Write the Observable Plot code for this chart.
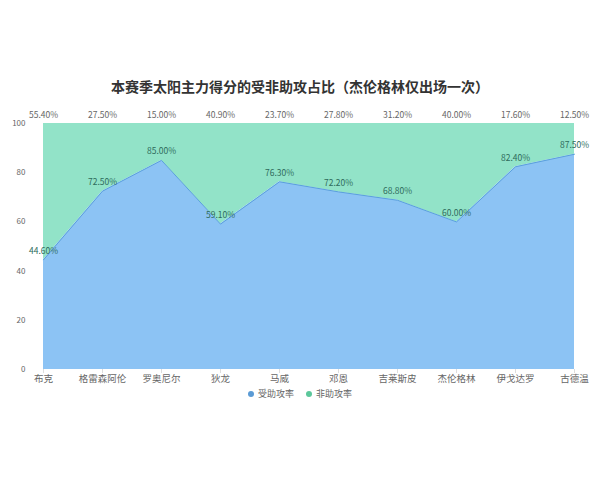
<!DOCTYPE html>
<html>
<head>
<meta charset="utf-8">
<script src="https://cdn.jsdelivr.net/npm/d3@7"></script>
<script src="https://cdn.jsdelivr.net/npm/@observablehq/plot@0.6"></script>
<style>
  body { margin: 0; background: #fff; font-family: "Noto Sans CJK SC", "Noto Sans", sans-serif; }
  #wrap { position: relative; width: 600px; height: 480px; overflow: hidden; }
  #title { position: absolute; left: 0; width: 600px; top: 76px; text-align: center; font-size: 14px; font-weight: bold; color: #333; }
  #legend { position: absolute; left: 0; width: 600px; top: 388px; line-height: 12px; display: flex; justify-content: center; gap: 12px; font-size: 9px; color: #666; }
  #legend span.item { display: flex; align-items: center; gap: 4px; }
  #legend span.dot { width: 6px; height: 6px; border-radius: 50%; display: inline-block; }
  #chart { position: absolute; left: 0; top: 0; }
</style>
</head>
<body>
<div id="wrap">
  <div id="chart"></div>
  <div id="title">本赛季太阳主力得分的受非助攻占比（杰伦格林仅出场一次）</div>
  <div id="legend"></div>
</div>
<script>
const players = ["布克", "格雷森阿伦", "罗奥尼尔", "狄龙", "马威", "邓恩", "吉莱斯皮", "杰伦格林", "伊戈达罗", "古德温"];
const assisted = [44.6, 72.5, 85.0, 59.1, 76.3, 72.2, 68.8, 60.0, 82.4, 87.5];
const unassisted = [55.4, 27.5, 15.0, 40.9, 23.7, 27.8, 31.2, 40.0, 17.6, 12.5];
const yTicks = [0, 20, 40, 60, 80, 100];
const seriesNames = ["受助攻率", "非助攻率"];
const seriesColors = ["#8cc3f4", "#92e3c8"];
const legendColors = ["#5b9bd5", "#5cc79b"];

const data = players.map((p, i) => ({ player: p, a: assisted[i], u: unassisted[i] }));
const fmt = v => v.toFixed(2) + "%";
const curve = "linear";

const chart = Plot.plot({
  width: 600,
  height: 480,
  marginLeft: 40,
  marginRight: 24,
  marginTop: 123,
  marginBottom: 111,
  style: { fontFamily: '"Noto Sans CJK SC", "Noto Sans", sans-serif', background: "transparent", overflow: "visible" },
  x: { type: "point", domain: players, padding: 0, label: null },
  y: { domain: [0, 100], ticks: yTicks, label: null },
  marks: [
    Plot.areaY(data, { x: "player", y1: "a", y2: 100, fill: seriesColors[1], curve }),
    Plot.areaY(data, { x: "player", y1: 0, y2: "a", fill: seriesColors[0], curve }),
    Plot.lineY(data, { x: "player", y: "a", stroke: "#5aa0dc", strokeWidth: 1, curve }),
    Plot.axisY({ ticks: yTicks, tickSize: 0, tickPadding: 15, fontSize: 8, fill: "#666" }),
    Plot.axisX({ tickSize: 4, stroke: "#ddd", tickPadding: 2, fontSize: 9.5, fill: "#666" }),
    Plot.text(data, { x: "player", y: "a", text: d => fmt(d.a), dy: -9, fontSize: 8.5, fill: "#2e6b5c" }),
    Plot.text(data, { x: "player", y: 100, text: d => fmt(d.u), dy: -8, fontSize: 8.5, fill: "#666" })
  ]
});
document.getElementById("chart").appendChild(chart);

const legend = document.getElementById("legend");
seriesNames.forEach((n, i) => {
  const item = document.createElement("span");
  item.className = "item";
  const dot = document.createElement("span");
  dot.className = "dot";
  dot.style.background = legendColors[i];
  item.appendChild(dot);
  item.appendChild(document.createTextNode(n));
  legend.appendChild(item);
});
</script>
</body>
</html>
